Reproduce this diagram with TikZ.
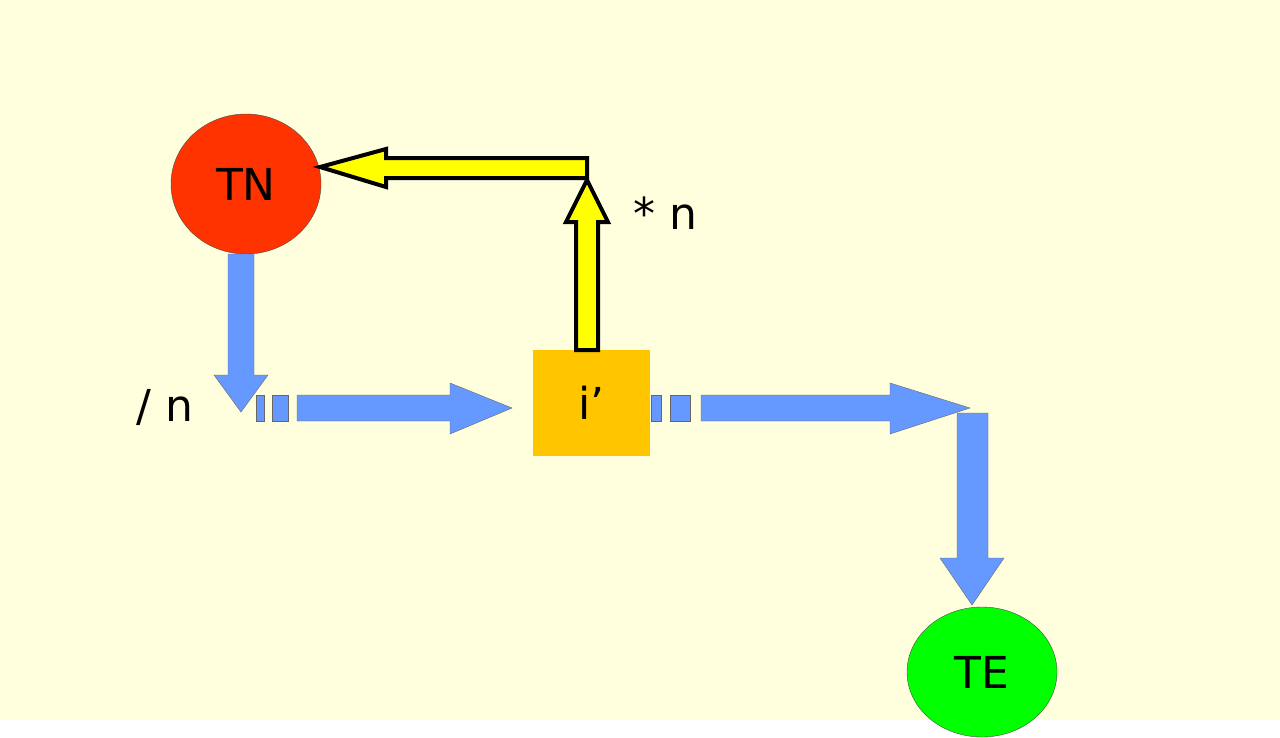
\documentclass[tikz,border=0pt]{standalone}
\usepackage{fontspec}
\setmainfont{DejaVu Sans}
\definecolor{paper}{RGB}{255,255,221}
\definecolor{tnred}{RGB}{255,51,0}
\definecolor{tegreen}{RGB}{0,255,0}
\definecolor{boxorange}{RGB}{255,198,0}
\definecolor{flowblue}{RGB}{102,153,255}
\definecolor{feedyellow}{RGB}{255,255,0}
\usetikzlibrary{positioning,shapes.geometric}

\begin{document}
\begin{tikzpicture}[x=1pt,y=-1pt,font=\fontsize{44}{48}\selectfont]
    \tikzset{
      blob/.style={ellipse,draw=black!70,thin,minimum width=150pt,inner sep=0pt},
      flow/.style={fill=flowblue,draw=black!60,thin},
      feed/.style={fill=feedyellow,draw=black,line width=4pt,line join=miter}
    }
    \fill[paper] (0,0) rectangle (1280,720);

    \node[blob,fill=tnred,minimum height=140pt] (TN) at (246,184) {TN};
    \node[blob,fill=tegreen,minimum height=130pt] (TE) at (982,672) {TE};
    \node[fill=boxorange,minimum width=117pt,minimum height=106pt,inner sep=0pt]
      (I) at (591.5,403) {i’};
    \node (star) at (665,213) {* n};
    \node (slash) at (165,407) {/ n};

    % blue flow
    \draw[flow] (228,254) -- (254,254) -- (254,375) -- (268,375) -- (241,412)
      -- (214,375) -- (228,375) -- cycle;
    \draw[flow] (256,395) rectangle (264,421);
    \draw[flow] (272,395) rectangle (288,421);
    \draw[flow] (297,395) -- (450,395) -- (450,383) -- (512,408) -- (450,434)
      -- (450,421) -- (297,421) -- cycle;
    \draw[flow] (651,395) rectangle (661,421);
    \draw[flow] (670,395) rectangle (690,421);
    \draw[flow] (701,395) -- (890,395) -- (890,383) -- (970,408) -- (890,434)
      -- (890,421) -- (701,421) -- cycle;
    \draw[flow] (957,413) -- (988,413) -- (988,558) -- (1004,558) -- (972,605)
      -- (940,558) -- (957,558) -- cycle;

    % yellow feedback
    \draw[feed] (587,178) -- (587,158) -- (386,158) -- (386,149) -- (320,167)
      -- (386,187) -- (386,178) -- cycle;
    \draw[feed] (576,350) -- (576,222) -- (566,222) -- (587,180) -- (608,222)
      -- (598,222) -- (598,350) -- cycle;
\end{tikzpicture}
\end{document}
